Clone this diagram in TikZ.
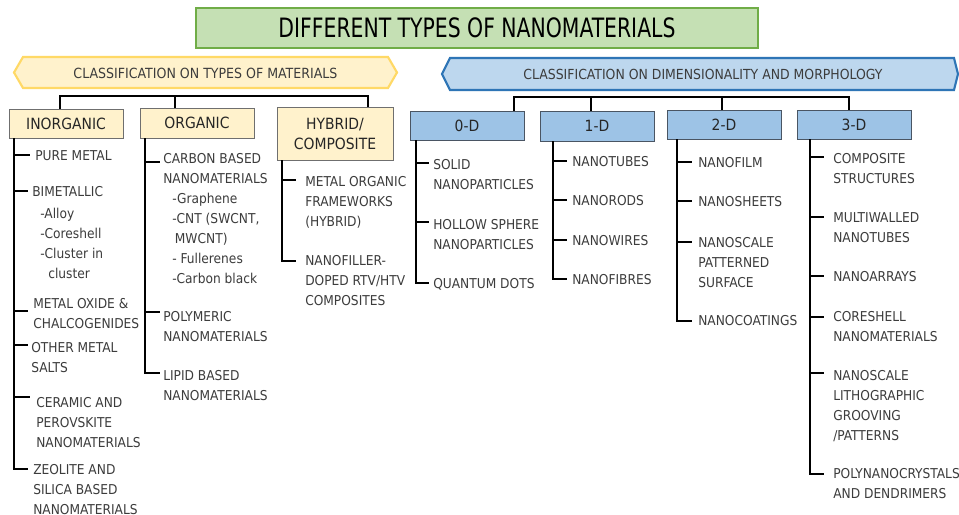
\documentclass[tikz,border=0pt]{standalone}
\usepackage{fontspec}
\setmainfont{DejaVu Sans Condensed}
\usetikzlibrary{fit}
\definecolor{tgreenf}{HTML}{C5E0B4}
\definecolor{tgreend}{HTML}{70AD47}
\definecolor{yelf}{HTML}{FFF2CC}
\definecolor{yeld}{HTML}{FFD966}
\definecolor{bluef}{HTML}{BDD7EE}
\definecolor{blued}{HTML}{2E75B6}
\definecolor{dbluef}{HTML}{9DC3E6}
\definecolor{boxd}{HTML}{4A5563}
\definecolor{ybd}{HTML}{6F6F6F}
\definecolor{txt}{HTML}{3C3C3C}
\newcommand{\itf}{\fontsize{10.2}{15}\selectfont}
\tikzset{
  item/.style={anchor=base west, align=left, inner sep=0pt, font=\itf, text=txt},
  tree/.style={line width=1.6pt, black},
  ybox/.style={inner sep=0pt, draw=ybd, fill=yelf, line width=0.6pt},
  bbox/.style={inner sep=0pt, draw=boxd, fill=dbluef, line width=0.6pt},
  blab/.style={font=\fontsize{11.6}{15}\selectfont, text=black!85, align=center, inner sep=0pt},
}
\begin{document}
\begin{tikzpicture}[x=0.75pt,y=-0.75pt]
\useasboundingbox (0,0) rectangle (959,514);
\fill[white] (0,0) rectangle (959,514);

% title
\node[fit={(196,8)(758,48)}, inner sep=0pt, draw=tgreend, fill=tgreenf, line width=0.8pt] (title) {};
\node[font=\fontsize{20}{22}\selectfont, text=black] at (title) {\scalebox{0.85}[1]{DIFFERENT TYPES OF NANOMATERIALS}};

% banners
\draw[draw=yeld, fill=yelf, line width=1.6pt] (14,72.5) -- (23,57) -- (388,57) -- (397,72.5) -- (388,88) -- (23,88) -- cycle;
\node[font=\fontsize{10.5}{12}\selectfont, text=txt] (cls1) at (205.5,73) {CLASSIFICATION ON TYPES OF MATERIALS};
\draw[draw=blued, fill=bluef, line width=1.6pt] (442,74) -- (450,58) -- (954,58) -- (958,74) -- (954,90) -- (450,90) -- cycle;
\node[font=\fontsize{10.4}{12}\selectfont, text=txt] (cls2) at (703,74) {CLASSIFICATION ON DIMENSIONALITY AND MORPHOLOGY};

% category boxes
\node[ybox, fit={(9,109)(123,138)}] (inorg) {};
\node[blab] at (inorg) {INORGANIC};
\node[ybox, fit={(140,108)(254,138)}] (org) {};
\node[blab] at (org) {ORGANIC};
\node[ybox, fit={(277,107)(393,160)}] (hyb) {};
\node[blab] at (hyb) {HYBRID/\\COMPOSITE};
\node[bbox, fit={(410,111)(524,140)}] (d0) {};
\node[blab] at (d0) {0-D};
\node[bbox, fit={(540,111)(654,141)}] (d1) {};
\node[blab] at (d1) {1-D};
\node[bbox, fit={(667,110)(781,139)}] (d2) {};
\node[blab] at (d2) {2-D};
\node[bbox, fit={(797,110)(911,139)}] (d3) {};
\node[blab] at (d3) {3-D};

% top connectors
\draw[tree] (inorg.north -| 60,0) |- (368,96) -- (hyb.north -| 368,0);
\draw[tree] (175,96) -- (org.north -| 175,0);
\draw[tree] (d0.north -| 514,0) |- (849,97) -- (d3.north -| 849,0);
\draw[tree] (591,97) -- (d1.north -| 591,0);
\draw[tree] (722,97) -- (d2.north -| 722,0);

% INORGANIC (base = baseline of last line)
\node[item] (i1) at (35,160) {PURE METAL};
\node[item] (i2) at (32,196) {BIMETALLIC};
\node[item] (i2a) at (40,278) {-Alloy\\-Coreshell\\-Cluster in\\\hspace*{6pt}cluster};
\node[item] (i3) at (33,328) {METAL OXIDE \&\\CHALCOGENIDES};
\node[item] (i4) at (31,372) {OTHER METAL\\SALTS};
\node[item] (i5) at (36,447) {CERAMIC AND\\PEROVSKITE\\NANOMATERIALS};
\node[item] (i6) at (33,514) {ZEOLITE AND\\SILICA BASED\\NANOMATERIALS};
\draw[tree] (inorg.south -| 14,0) -- (14,469) -- (28,469);
\foreach \y/\e in {155/30,191/28,311/28,345/28,397/30} \draw[tree] (14,\y) -- (\e,\y);

% ORGANIC
\node[item] (o1) at (163,183) {CARBON BASED\\NANOMATERIALS};
\node[item] (o1a) at (172,283) {-Graphene\\-CNT (SWCNT,\\\hspace*{2pt}MWCNT)\\- Fullerenes\\-Carbon black};
\node[item] (o2) at (163,341) {POLYMERIC\\NANOMATERIALS};
\node[item] (o3) at (163,400) {LIPID BASED\\NANOMATERIALS};
\draw[tree] (org.south -| 145,0) -- (145,373) -- (160,373);
\foreach \y in {162,312} \draw[tree] (145,\y) -- (160,\y);

% HYBRID
\node[item] (h1) at (305,226) {METAL ORGANIC\\FRAMEWORKS\\(HYBRID)};
\node[item] (h2) at (305,305) {NANOFILLER-\\DOPED RTV/HTV\\COMPOSITES};
\draw[tree] (hyb.south -| 282,0) -- (282,261) -- (296,261);
\draw[tree] (282,180) -- (296,180);

% 0-D
\node[item] (z1) at (433,189) {SOLID\\NANOPARTICLES};
\node[item] (z2) at (433,249) {HOLLOW SPHERE\\NANOPARTICLES};
\node[item] (z3) at (433,288) {QUANTUM DOTS};
\draw[tree] (d0.south -| 416,0) -- (416,283) -- (429,283);
\foreach \y in {163,222} \draw[tree] (416,\y) -- (429,\y);

% 1-D
\node[item] (a1) at (572,166) {NANOTUBES};
\node[item] (a2) at (572,205) {NANORODS};
\node[item] (a3) at (572,245) {NANOWIRES};
\node[item] (a4) at (572,284) {NANOFIBRES};
\draw[tree] (d1.south -| 553,0) -- (553,279) -- (567,279);
\foreach \y in {161,200,240} \draw[tree] (553,\y) -- (567,\y);

% 2-D
\node[item] (b1) at (698,167) {NANOFILM};
\node[item] (b2) at (698,206) {NANOSHEETS};
\node[item] (b3) at (698,287) {NANOSCALE\\PATTERNED\\SURFACE};
\node[item] (b4) at (698,325) {NANOCOATINGS};
\draw[tree] (d2.south -| 677,0) -- (677,321) -- (692,321);
\foreach \y in {162,201,242} \draw[tree] (677,\y) -- (692,\y);

% 3-D
\node[item] (c1) at (833,183) {COMPOSITE\\STRUCTURES};
\node[item] (c2) at (833,242) {MULTIWALLED\\NANOTUBES};
\node[item] (c3) at (833,281) {NANOARRAYS};
\node[item] (c4) at (833,341) {CORESHELL\\NANOMATERIALS};
\node[item] (c5) at (833,440) {NANOSCALE\\LITHOGRAPHIC\\GROOVING\\/PATTERNS};
\node[item] (c6) at (833,498) {POLYNANOCRYSTALS\\AND DENDRIMERS};
\draw[tree] (d3.south -| 810,0) -- (810,474) -- (824,474);
\foreach \y in {157,217,276,317,373} \draw[tree] (810,\y) -- (824,\y);
\end{tikzpicture}
\end{document}
